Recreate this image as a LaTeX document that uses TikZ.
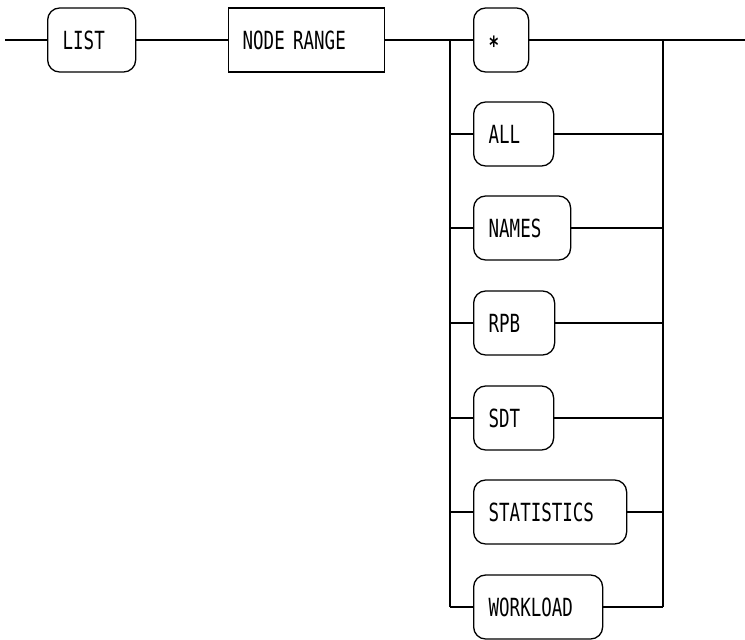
\documentclass[tikz,border=0pt]{standalone}
\usepackage{fontspec}
\newfontfamily\plotfont[FakeStretch=0.7]{DejaVu Sans Mono}
\begin{document}
\begin{tikzpicture}[x=1pt,y=-1pt,
  line width=1.3pt,
  kw/.style={draw, rounded corners=12pt, minimum height=64pt, inner xsep=15pt, inner ysep=0pt,
             align=left, anchor=west, font=\plotfont\fontsize{25}{28}\selectfont},
  rectbox/.style={draw, minimum height=64pt, inner xsep=14pt, inner ysep=0pt,
             align=left, anchor=west, font=\plotfont\fontsize{25}{28}\selectfont}]
\useasboundingbox (0,0) rectangle (745,640);
\coordinate (start) at (5,40);
\coordinate (end) at (745,40);
\coordinate (sl) at (450,40);
\coordinate (sr) at (663,40);
\coordinate (bl) at (450,607);
\coordinate (br) at (663,607);
\node[kw, text width=58pt] (list) at (47,40) {LIST};
\node[rectbox, text width=128pt] (range) at (228,40) {NODE RANGE};
\node[kw, text width=25pt] (star) at (473,40) {\raisebox{-14pt}[0pt][0pt]{\bfseries *}};
\node[kw, text width=50pt] (all) at (473,134) {ALL};
\node[kw, text width=67pt] (names) at (473,228) {NAMES};
\node[kw, text width=51pt] (rpb) at (473,323) {RPB};
\node[kw, text width=50pt] (sdt) at (473,418) {SDT};
\node[kw, text width=123pt] (stat) at (473,512) {STATISTICS};
\node[kw, text width=99pt] (work) at (473,607) {WORKLOAD};
\draw (start) -- (list.west);
\draw (list.east) -- (range.west);
\draw (range.east) -- (sl) -- (star.west);
\draw (star.east) -- (sr) -- (end);
\draw (sl) -- (bl);
\draw (sr) -- (br);
\foreach \n in {all,names,rpb,sdt,stat,work}{
  \draw (sl |- \n.west) -- (\n.west);
  \draw (\n.east) -- (sr |- \n.east);
}
\end{tikzpicture}
\end{document}
